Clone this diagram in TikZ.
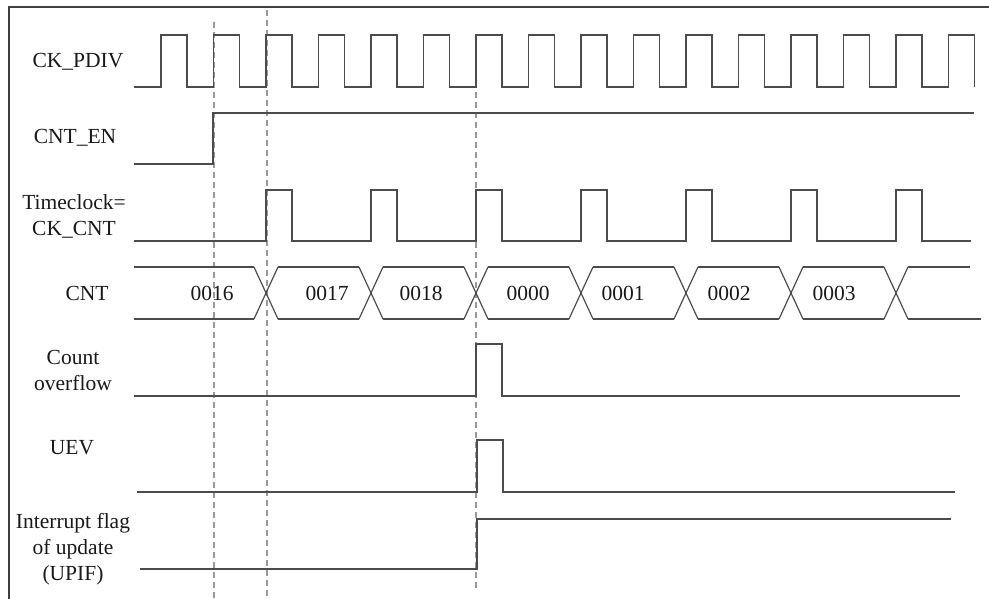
\documentclass[tikz,border=0pt]{standalone}
\usepackage{fontspec}
\setmainfont{Liberation Serif}
\begin{document}
\begin{tikzpicture}[x=1pt,y=-1pt,
  sig/.style={draw=black!70, line width=1.2pt},
  frame/.style={draw=black!75, line width=1.1pt},
  guide/.style={draw=black!40, line width=1.1pt, dash pattern=on 6pt off 4pt},
  lbl/.style={font=\fontsize{21.5}{26}\selectfont, text=black!90, inner sep=0pt, align=center},
  val/.style={font=\fontsize{21.5}{26}\selectfont, text=black!90, inner sep=0pt}]
\useasboundingbox (0,0) rectangle (989,599);
% frame
\draw[frame] (9,599) -- (9,7) -- (989,7);
% guides
\draw[guide] (214,22) -- (214,599);
\draw[guide] (267,10) -- (267,599);
\draw[guide] (476,92) -- (476,590);
% labels
\node[lbl] (lckp) at (78,62) {CK\_PDIV};
\node[lbl] (lcen) at (75,138) {CNT\_EN};
\node[lbl] (ltc) at (74,216) {Timeclock=\\CK\_CNT};
\node[lbl] (lcnt) at (87,293) {CNT};
\node[lbl] (lov) at (73,370) {Count\\overflow};
\node[lbl] (luev) at (72,448) {UEV};
\node[lbl] (lupif) at (73,549) {Interrupt flag\\of update\\(UPIF)};
% CK_PDIV
\draw[sig] (134,87) foreach \k in {0,...,15} {
  -- ({161+52.5*\k},87) -- ({161+52.5*\k},35) -- ({187+52.5*\k},35) -- ({187+52.5*\k},87) };
% CNT_EN
\draw[sig] (134,164) -- (213,164) -- (213,113) -- (974,113);
% Timeclock
\draw[sig] (134,241) foreach \k in {0,...,6} {
  -- ({266+105*\k},241) -- ({266+105*\k},190) -- ({292+105*\k},190) -- ({292+105*\k},241) } -- (971,241);
% CNT bus
\draw[sig] (134,267) -- (254,267);
\draw[sig] (134,319) -- (254,319);
\foreach \k in {0,...,6} {
  \draw[sig] ({254+105*\k},267) -- ({278+105*\k},319);
  \draw[sig] ({254+105*\k},319) -- ({278+105*\k},267);
}
\foreach \k in {0,...,5} {
  \draw[sig] ({278+105*\k},267) -- ({359+105*\k},267);
  \draw[sig] ({278+105*\k},319) -- ({359+105*\k},319);
}
\draw[sig] (908,267) -- (970,267);
\draw[sig] (908,319) -- (981,319);
\node[val] (v16) at (212,293) {0016};
\node[val] (v17) at (327,293) {0017};
\node[val] (v18) at (421,293) {0018};
\node[val] (v00) at (528,293) {0000};
\node[val] (v01) at (623,293) {0001};
\node[val] (v02) at (729,293) {0002};
\node[val] (v03) at (834,293) {0003};
% Count overflow
\draw[sig] (134,396) -- (476,396) -- (476,344) -- (502,344) -- (502,396) -- (960,396);
% UEV
\draw[sig] (137,492) -- (477,492) -- (477,440) -- (503,440) -- (503,492) -- (955,492);
% UPIF
\draw[sig] (140,569) -- (477,569) -- (477,519) -- (951,519);
\end{tikzpicture}
\end{document}
